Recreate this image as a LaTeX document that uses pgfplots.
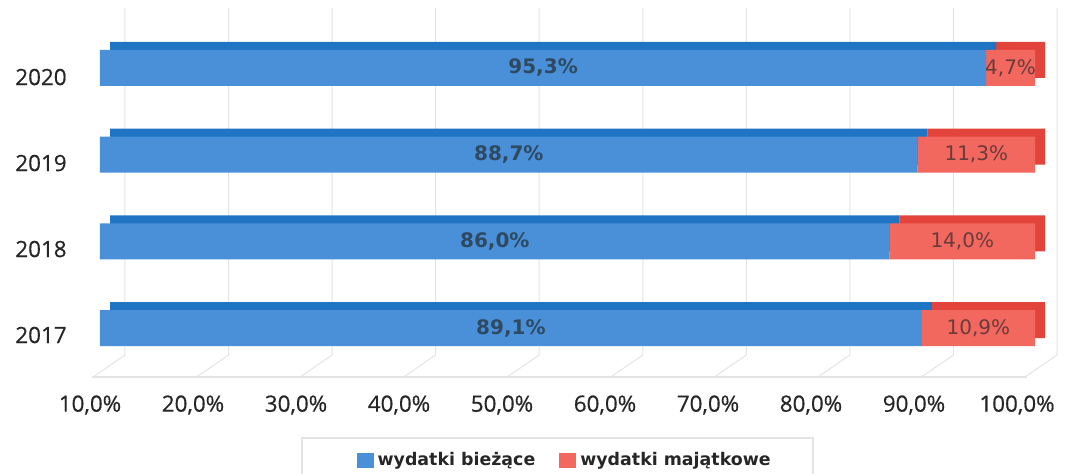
\documentclass[border=0pt]{standalone}
\usepackage{fontspec}
\setmainfont{Open Sans}
\newfontfamily\ticksf{Open Sans}[FakeBold=0.5]
\newfontfamily\dejavu{DejaVu Sans}
\usepackage{pgfplots}
\pgfplotsset{compat=1.18}

\definecolor{blueF}{HTML}{4A90D9}
\definecolor{blueT}{HTML}{1F74C4}
\definecolor{redF}{HTML}{F2675E}
\definecolor{redT}{HTML}{E2443C}
\definecolor{gridc}{HTML}{E4E4E4}
\definecolor{lblB}{HTML}{2E4A62}
\definecolor{lblR}{HTML}{6A3B3B}

\pgfplotsset{
  barplane/.style={
    scale only axis, width=467.5pt, height=180pt,
    xmin=10, xmax=100, ymin=-0.461, ymax=3.691,
    hide axis,
  },
}

\begin{document}
\begin{tikzpicture}
\useasboundingbox (-45pt,-48.5pt) rectangle (490pt,188.5pt);

% back wall grid and floor
\begin{axis}[
  at={(17.5pt,11pt)}, scale only axis, width=466pt, height=173.5pt,
  xmin=10, xmax=100, ymin=0, ymax=1, hide axis, clip=false]
  \pgfplotsinvokeforeach{10,20,...,100}{
    \draw[gridc, line width=0.5pt] (axis cs:#1,1) -- (axis cs:#1,0) -- ++(-16pt,-11pt);
  }
\end{axis}
\draw[gridc, line width=0.7pt] (1pt,0) -- (468.5pt,0);

% front floor: tick labels
\begin{axis}[
  scale only axis, width=463.5pt, height=188.5pt,
  xmin=10, xmax=100, ymin=-0.488, ymax=3.896,
  axis line style={draw=none}, major tick length=0pt,
  xtick={10,20,...,100},
  xticklabels={{10,0\%},{20,0\%},{30,0\%},{40,0\%},{50,0\%},{60,0\%},{70,0\%},{80,0\%},{90,0\%},{100,0\%}},
  ytick={0,1,2,3},
  yticklabels={2017,2018,2019,2020},
  xticklabel style={anchor=center, inner sep=0pt, yshift=-14pt},
  yticklabel style={anchor=east, inner sep=0pt, xshift=-11.5pt},
  ticklabel style={font=\ticksf\fontsize{11.2}{13}\selectfont, text=black!85},
]
\end{axis}

% top and side faces of the bars
\begin{axis}[barplane, at={(10pt,8.5pt)}, xbar stacked, bar width=0.415]
  \addplot[fill=blueT, draw=none] coordinates {(89.1,0) (86.0,1) (88.7,2) (95.3,3)};
  \addplot[fill=redT, draw=none] coordinates {(10.9,0) (14.0,1) (11.3,2) (4.7,3)};
\end{axis}

% front faces of the bars
\begin{axis}[barplane, at={(5pt,4.5pt)}, xbar stacked, bar width=0.415,
  legend columns=2,
  legend style={at={(0.498,-0.258)}, anchor=center, draw=none, fill=none,
    font=\dejavu\bfseries\fontsize{8.7}{10}\selectfont, text=black!85,
    /tikz/every even column/.append style={column sep=10pt},
    /tikz/inner xsep=1pt},
  legend image code/.code={\fill[#1] (0pt,-3.8pt) rectangle (8.5pt,3.8pt);},
]
  \addplot[fill=blueF, draw=none] coordinates {(89.1,0) (86.0,1) (88.7,2) (95.3,3)};
  \addlegendentry{wydatki bieżące}
  \addplot[fill=redF, draw=none] coordinates {(10.9,0) (14.0,1) (11.3,2) (4.7,3)};
  \addlegendentry{wydatki majątkowe}
\end{axis}

% data labels
\begin{axis}[barplane, at={(5pt,4.5pt)}]
  \addplot[draw=none, only marks, mark options={draw=none, fill=none},
    nodes near coords, point meta=explicit symbolic,
    every node near coord/.append style={anchor=center, text=lblB,
      font=\dejavu\bfseries\fontsize{10}{12}\selectfont}]
    coordinates {(49.55,0) [89,1\%] (48.0,1) [86,0\%] (49.35,2) [88,7\%] (52.65,3) [95,3\%]};
  \addplot[draw=none, only marks, mark options={draw=none, fill=none},
    nodes near coords, point meta=explicit symbolic,
    every node near coord/.append style={anchor=center, text=lblR,
      font=\dejavu\fontsize{10}{12}\selectfont}]
    coordinates {(94.55,0) [10,9\%] (93.0,1) [14,0\%] (94.35,2) [11,3\%] (97.65,3) [4,7\%]};
\end{axis}

% legend frame, cut at the bottom
\draw[gridc, line width=0.6pt] (106pt,-48.5pt) |- (361.5pt,-30.5pt) -- (361.5pt,-48.5pt);
\end{tikzpicture}
\end{document}
